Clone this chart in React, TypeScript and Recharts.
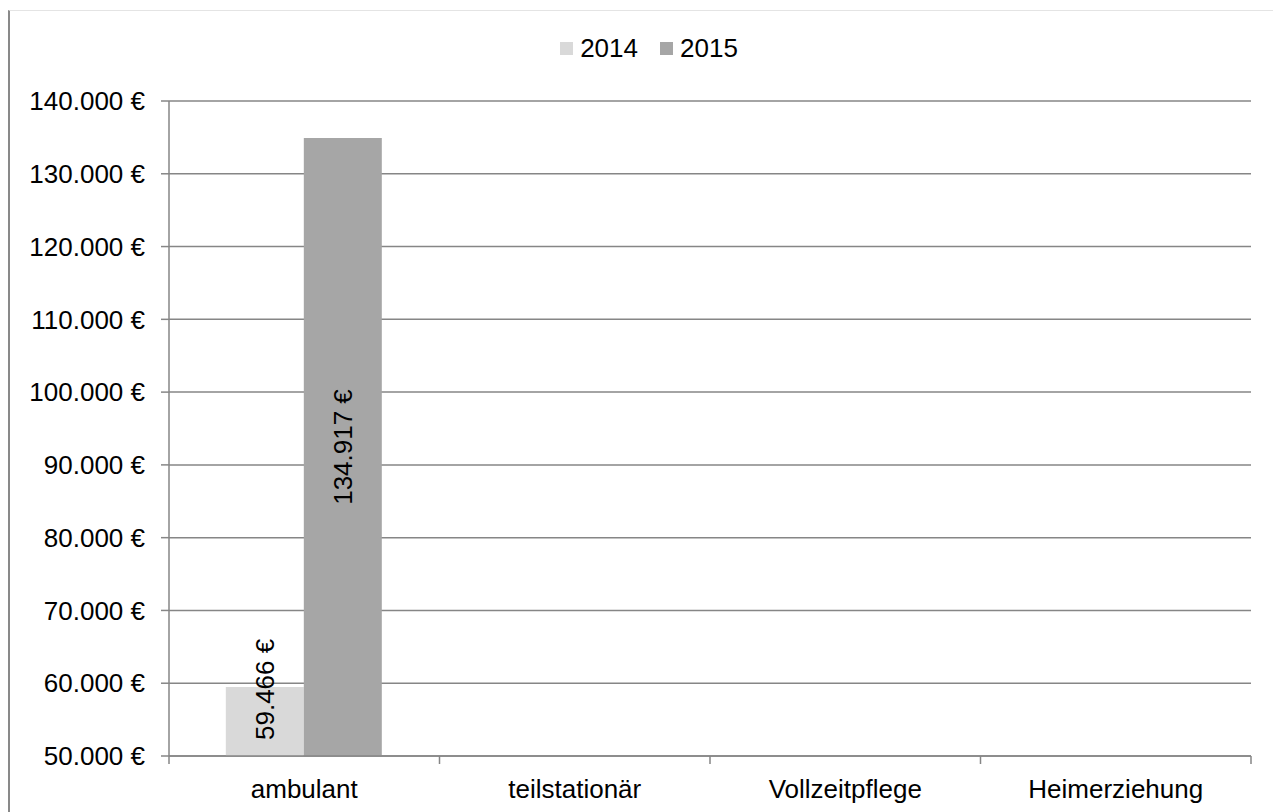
import { Bar, BarChart, CartesianGrid, LabelList, Legend, XAxis, YAxis } from 'recharts';

const categories = ['ambulant', 'teilstationär', 'Vollzeitpflege', 'Heimerziehung'];
const values2014: (number | null)[] = [59466, null, null, null];
const values2015: (number | null)[] = [134917, null, null, null];
const yTicks = [50000, 60000, 70000, 80000, 90000, 100000, 110000, 120000, 130000, 140000];

const series = [
  { key: 'y2014', name: '2014', color: '#d9d9d9' },
  { key: 'y2015', name: '2015', color: '#a6a6a6' },
];

const data = categories.map((name, i) => ({ name, y2014: values2014[i], y2015: values2015[i] }));

const FONT = '"Liberation Sans", Arial, sans-serif';
const GRID = '#868686';
const FS = 26;

function euro(v: number): string {
  return `${String(Math.round(v)).replace(/\B(?=(\d{3})+(?!\d))/g, '.')} €`;
}

function BarLabel(props: any) {
  const { x, y, width, height, value } = props;
  if (value == null) return null;
  const text = euro(value);
  const textLen = text.length * FS * 0.48;
  const cx = x + width / 2;
  const fits = textLen < height - 20;
  const cy = fits ? y + height / 2 : y + height - 16;
  return (
    <text
      x={cx}
      y={cy}
      transform={`rotate(-90 ${cx} ${cy})`}
      textAnchor={fits ? 'middle' : 'start'}
      dominantBaseline="central"
      fontSize={FS}
      fontFamily={FONT}
      fill="#000"
    >
      {text}
    </text>
  );
}

function CategoryTick(props: any) {
  const { x, y, payload, index, width } = props;
  const band = width / categories.length;
  return (
    <g>
      {index === 0 && <line x1={x - band / 2} x2={x - band / 2} y1={y - 8} y2={y} stroke={GRID} strokeWidth={1.5} />}
      <line x1={x + band / 2} x2={x + band / 2} y1={y - 8} y2={y} stroke={GRID} strokeWidth={1.5} />
      <text x={x} y={y + 34} textAnchor="middle" fontSize={FS} fontFamily={FONT} fill="#000">
        {payload.value}
      </text>
    </g>
  );
}

function LegendContent() {
  return (
    <div style={{ display: 'flex', justifyContent: 'center', alignItems: 'center', fontFamily: FONT, fontSize: FS, paddingLeft: 12 }}>
      {series.map((s, i) => (
        <div key={s.key} style={{ display: 'flex', alignItems: 'center', marginLeft: i > 0 ? 22 : 0 }}>
          <span style={{ width: 13, height: 13, background: s.color, display: 'inline-block', marginRight: 7 }} />
          <span style={{ color: '#000' }}>{s.name}</span>
        </div>
      ))}
    </div>
  );
}

export default function App() {
  return (
    <>
      <style>{'body{overflow:hidden}'}</style>
      <div
        style={{
          position: 'relative',
          top: 2,
          width: 1270,
          height: 810,
          boxSizing: 'border-box',
          borderLeft: '2px solid #898989',
          borderRight: '2px solid #898989',
          borderTop: '1px solid #e4e4e4',
          background: '#fff',
        }}
      >
        <BarChart
          width={1266}
          height={800}
          data={data}
          margin={{ top: 59, right: 25, bottom: 0, left: 0 }}
          barCategoryGap="21%"
          barGap={0}
        >
          <CartesianGrid vertical={false} stroke={GRID} strokeWidth={1.5} />
          <XAxis
            dataKey="name"
            height={55}
            axisLine={{ stroke: GRID, strokeWidth: 1.5 }}
            tickLine={false}
            tick={<CategoryTick />}
            interval={0}
          />
          <YAxis
            width={159}
            domain={[50000, 140000]}
            ticks={yTicks}
            tickFormatter={(v: number) => euro(v)}
            tick={{ fontSize: FS, fontFamily: FONT, fill: '#000' }}
            tickSize={8}
            tickMargin={16}
            axisLine={{ stroke: GRID, strokeWidth: 1.5 }}
            tickLine={{ stroke: GRID, strokeWidth: 1.5 }}
            allowDataOverflow
          />
          <Legend verticalAlign="top" wrapperStyle={{ top: 22, left: 0, width: 1266 }} content={<LegendContent />} />
          {series.map((s) => (
            <Bar key={s.key} dataKey={s.key} name={s.name} fill={s.color} isAnimationActive={false}>
              <LabelList dataKey={s.key} content={<BarLabel />} />
            </Bar>
          ))}
        </BarChart>
      </div>
    </>
  );
}
